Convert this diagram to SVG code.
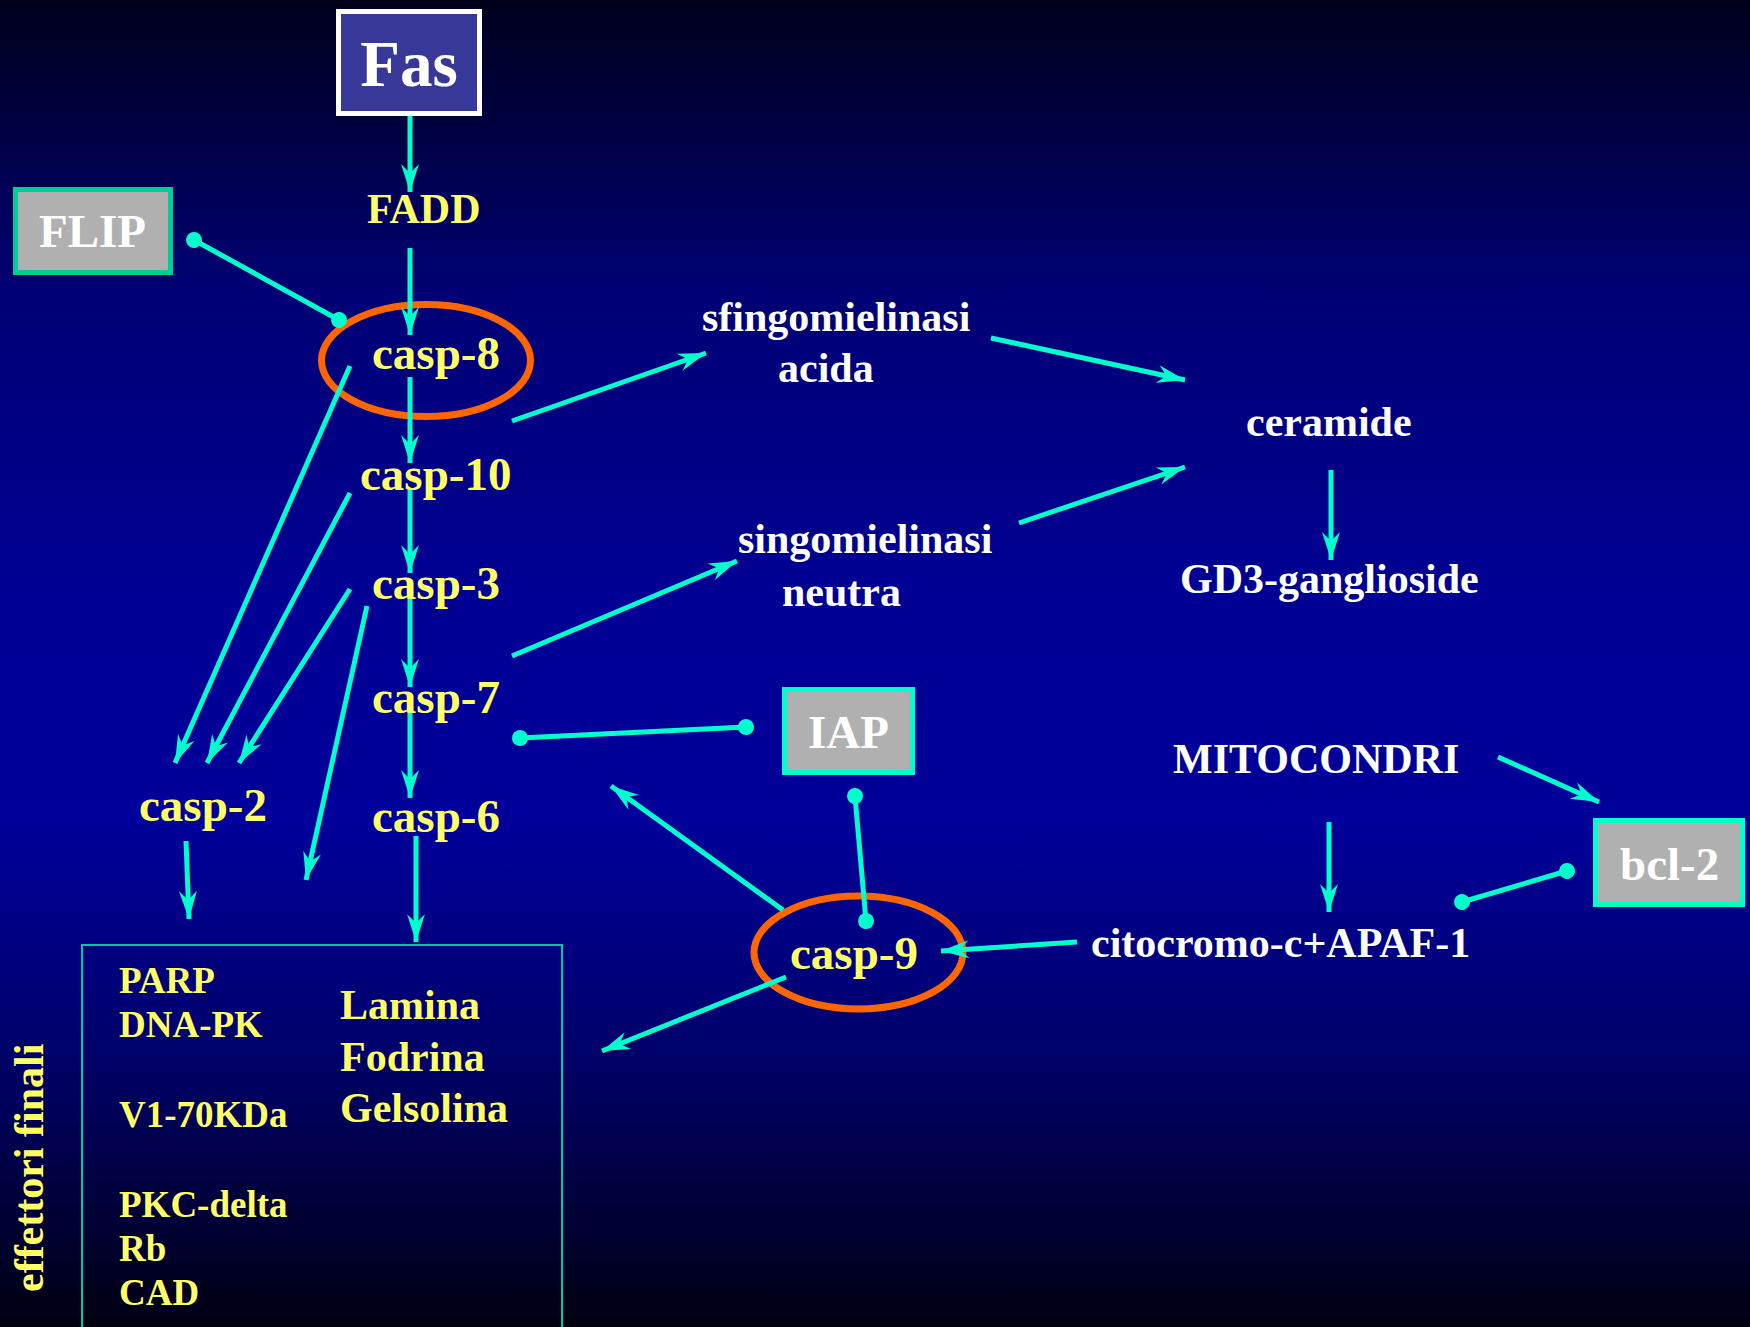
<svg xmlns="http://www.w3.org/2000/svg" width="1750" height="1327" viewBox="0 0 1750 1327">
<defs>
<linearGradient id="bg" x1="0" y1="0" x2="0" y2="1">
<stop offset="0" stop-color="#00001c"/>
<stop offset="0.22" stop-color="#000074"/>
<stop offset="0.45" stop-color="#000094"/>
<stop offset="0.62" stop-color="#00009a"/>
<stop offset="0.8" stop-color="#000068"/>
<stop offset="1" stop-color="#000012"/>
</linearGradient>
<marker id="arr" markerUnits="userSpaceOnUse" orient="auto" refX="28" refY="0" markerWidth="30" markerHeight="20" overflow="visible">
<path d="M0,-9 L28,0 L0,9 L9,0 Z" fill="#00ffcc"/>
</marker>
<marker id="dot" markerUnits="userSpaceOnUse" orient="auto" refX="0" refY="0" markerWidth="18" markerHeight="18" overflow="visible">
<circle cx="0" cy="0" r="8" fill="#00ffcc"/>
</marker>
</defs>
<style>
.t{font-family:"Liberation Serif","Times New Roman",serif;font-weight:bold}
.y{fill:#ffff66}
.w{fill:#ffffff}
.c{stroke:#00ffcc;stroke-width:5;fill:none}
.a{marker-end:url(#arr)}
.i{marker-start:url(#dot);marker-end:url(#dot)}
.ell{fill:none;stroke:#ff6600;stroke-width:7}
.gbox{fill:#b0b0b0;stroke-width:5}
</style>
<rect x="0" y="0" width="1750" height="1327" fill="url(#bg)"/>

<g id="effettori-box">
<rect x="82" y="945" width="480" height="420" fill="none" stroke="#00c8a0" stroke-width="2"/>
<text class="t y" x="43" y="1292" font-size="42" transform="rotate(-90 43 1292)">effettori finali</text>
<text class="t y" x="119" y="993" font-size="37">PARP</text>
<text class="t y" x="119" y="1037" font-size="37">DNA-PK</text>
<text class="t y" x="119" y="1127" font-size="37">V1-70KDa</text>
<text class="t y" x="119" y="1217" font-size="37">PKC-delta</text>
<text class="t y" x="119" y="1261" font-size="37">Rb</text>
<text class="t y" x="119" y="1305" font-size="37">CAD</text>
<text class="t y" x="340" y="1019" font-size="42">Lamina</text>
<text class="t y" x="340" y="1071" font-size="42">Fodrina</text>
<text class="t y" x="340" y="1122" font-size="42">Gelsolina</text>
</g>

<g id="casp-8-ring"><ellipse class="ell" cx="426" cy="360.5" rx="104.5" ry="56"/></g>
<g id="casp-9-ring"><ellipse class="ell" cx="858.5" cy="952.5" rx="104.5" ry="56.5"/></g>

<g id="connectors">
<line class="c a" x1="410" y1="106" x2="410" y2="192"/>
<line class="c a" x1="410" y1="248" x2="410" y2="335"/>
<line class="c a" x1="410" y1="377" x2="410" y2="463"/>
<line class="c a" x1="410" y1="488" x2="410" y2="573"/>
<line class="c a" x1="410" y1="590" x2="410" y2="687"/>
<line class="c a" x1="410" y1="703" x2="410" y2="798"/>
<line class="c a" x1="416" y1="836" x2="416" y2="942"/>
<line class="c a" x1="350" y1="366" x2="175" y2="763"/>
<line class="c a" x1="350" y1="493" x2="207" y2="763"/>
<line class="c a" x1="350" y1="589" x2="239" y2="763"/>
<line class="c a" x1="367" y1="606" x2="306" y2="880"/>
<line class="c a" x1="186" y1="841" x2="189" y2="919"/>
<line class="c a" x1="512" y1="421" x2="706" y2="353"/>
<line class="c a" x1="991" y1="338" x2="1185" y2="380"/>
<line class="c a" x1="512" y1="656" x2="737" y2="561"/>
<line class="c a" x1="1019" y1="523" x2="1185" y2="467"/>
<line class="c a" x1="1331" y1="470" x2="1331" y2="560"/>
<line class="c a" x1="1498" y1="757" x2="1599" y2="802"/>
<line class="c a" x1="1329" y1="822" x2="1329" y2="912"/>
<line class="c a" x1="1077" y1="942" x2="941" y2="951"/>
<line class="c a" x1="783" y1="910" x2="611" y2="786"/>
<line class="c a" x1="786" y1="977" x2="602" y2="1051"/>
<line class="c i" x1="194" y1="240" x2="339" y2="320"/>
<line class="c i" x1="520" y1="738" x2="746" y2="727"/>
<line class="c i" x1="855" y1="796" x2="866" y2="921"/>
<line class="c i" x1="1567" y1="871" x2="1462" y2="902"/>
</g>

<g id="Fas">
<rect x="338.5" y="11.5" width="141" height="102" fill="#383898" stroke="#ffffff" stroke-width="5"/>
<text class="t w" x="409" y="86" font-size="65" text-anchor="middle">Fas</text>
</g>
<g id="FLIP">
<rect class="gbox" x="15.5" y="189.5" width="155" height="83" stroke="#00cc99"/>
<text class="t w" x="39" y="247" font-size="47">FLIP</text>
</g>
<g id="IAP">
<rect class="gbox" x="784.5" y="689.5" width="128" height="83" stroke="#00ffcc"/>
<text class="t w" x="808" y="748" font-size="47">IAP</text>
</g>
<g id="bcl-2">
<rect class="gbox" x="1595.5" y="820.5" width="147" height="84" stroke="#00ffcc"/>
<text class="t w" x="1620" y="880" font-size="47">bcl-2</text>
</g>

<g id="FADD"><text class="t y" x="367" y="223" font-size="42">FADD</text></g>
<g id="casp-8"><text class="t y" x="372" y="369" font-size="47">casp-8</text></g>
<g id="casp-10"><text class="t y" x="360" y="490" font-size="47">casp-10</text></g>
<g id="casp-3"><text class="t y" x="372" y="599" font-size="47">casp-3</text></g>
<g id="casp-7"><text class="t y" x="372" y="713" font-size="47">casp-7</text></g>
<g id="casp-6"><text class="t y" x="372" y="832" font-size="47">casp-6</text></g>
<g id="casp-2"><text class="t y" x="139" y="821" font-size="47">casp-2</text></g>
<g id="casp-9"><text class="t y" x="790" y="969" font-size="47">casp-9</text></g>
<g id="sfingomielinasi"><text class="t w" x="702" y="331" font-size="42">sfingomielinasi</text><text class="t w" x="778" y="382" font-size="42">acida</text></g>
<g id="singomielinasi"><text class="t w" x="738" y="553" font-size="42">singomielinasi</text><text class="t w" x="782" y="606" font-size="42">neutra</text></g>
<g id="ceramide"><text class="t w" x="1246" y="436" font-size="42">ceramide</text></g>
<g id="GD3"><text class="t w" x="1180" y="593" font-size="42">GD3-ganglioside</text></g>
<g id="MITOCONDRI"><text class="t w" x="1173" y="773" font-size="42">MITOCONDRI</text></g>
<g id="citocromo"><text class="t w" x="1091" y="957" font-size="42">citocromo-c+APAF-1</text></g>
</svg>
